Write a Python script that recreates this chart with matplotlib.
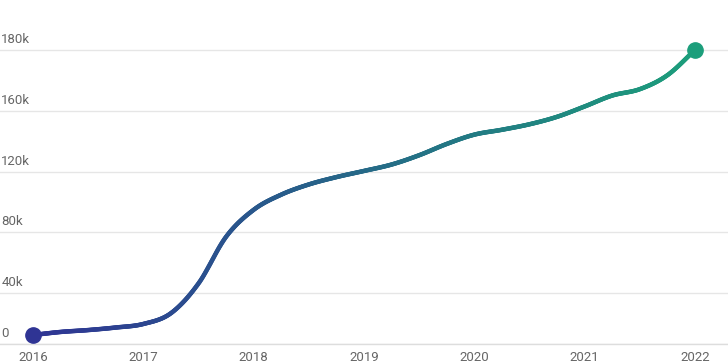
import numpy as np
import matplotlib
matplotlib.use("Agg")
import matplotlib.pyplot as plt
from matplotlib.collections import LineCollection
from matplotlib.colors import to_rgb

plt.rcParams['font.family'] = ['Roboto', 'DejaVu Sans']

# quarterly readings (thousands)
years = [2016 + q / 4 for q in range(25)]
values = [7.1, 9.5, 11.0, 13.0, 15.8, 24.3, 46.4, 76.7, 94.6, 104.7,
          111.5, 116.4, 120.5, 124.7, 130.8, 138.2, 144.3, 147.5, 151.1,
          156.0, 161.4, 165.0, 167.1, 171.7, 180.0]

tick_vals = [0, 40, 80, 120, 160, 180]
tick_labels = ["0", "40k", "80k", "120k", "160k", "180k"]
x_ticks = [2016, 2017, 2018, 2019, 2020, 2021, 2022]

c_start = "#2f3494"
c_end = "#1c9e7b"

# the axis in the original is spaced unevenly: piecewise mapping
scale_v = np.array([0, 40, 80, 120, 160, 180, 220], dtype=float)
scale_t = np.array([0, 50.7, 112.3, 172.3, 233.3, 294, 415.4])


def fwd(v):
    return np.interp(v, scale_v, scale_t)


def inv(t):
    return np.interp(t, scale_t, scale_v)


def smooth(x, y, n=30):
    # catmull-rom style cubic hermite
    x = np.asarray(x, float)
    y = np.asarray(y, float)
    h = np.diff(x)
    m = np.zeros(len(x))
    m[0] = (y[1] - y[0]) / h[0]
    m[-1] = (y[-1] - y[-2]) / h[-1]
    m[1:-1] = (y[2:] - y[:-2]) / (x[2:] - x[:-2])
    xs, ys = [], []
    for i in range(len(x) - 1):
        s = np.linspace(0, 1, n, endpoint=(i == len(x) - 2))
        h00 = 2 * s**3 - 3 * s**2 + 1
        h10 = s**3 - 2 * s**2 + s
        h01 = -2 * s**3 + 3 * s**2
        h11 = s**3 - s**2
        xs.append(x[i] + s * h[i])
        ys.append(h00 * y[i] + h10 * h[i] * m[i] + h01 * y[i + 1] + h11 * h[i] * m[i + 1])
    return np.concatenate(xs), np.concatenate(ys)


fig = plt.figure(figsize=(7.28, 3.64), dpi=100)
ax = fig.add_axes([0, 20 / 364, 1, 324 / 364])
ax.set_yscale("function", functions=(fwd, inv))

xs, ts = smooth(years, fwd(values))
ys = inv(ts)

c0 = np.array(to_rgb(c_start))
c1 = np.array(to_rgb(c_end))
frac = (xs[:-1] - xs[0]) / (xs[-1] - xs[0])
cols = c0 + (c1 - c0) * frac[:, None]
pts = np.column_stack([xs, ys]).reshape(-1, 1, 2)
segs = np.concatenate([pts[:-1], pts[1:]], axis=1)
lc = LineCollection(segs, colors=cols, linewidths=3.2, capstyle="round", zorder=3)
ax.add_collection(lc)

ax.plot(years[0], values[0], "o", ms=11, color=c_start, zorder=4)
ax.plot(years[-1], values[-1], "o", ms=11, color=c_end, zorder=4)

ax.set_xlim(2016 - 33 / 110.33, 2022 + 33 / 110.33)
ax.set_ylim(0, inv(324))

ax.set_yticks(tick_vals)
ax.set_yticklabels([])
ax.tick_params(axis="y", length=0)
ax.grid(axis="y", color="#e6e6e6", linewidth=1)
ax.set_axisbelow(True)

for v, lab in zip(tick_vals, tick_labels):
    ax.annotate(lab, xy=(0, v), xycoords=("axes fraction", "data"),
                xytext=(1, 3), textcoords="offset points",
                ha="left", va="bottom", fontsize=9.5, color="#666666")

ax.set_xticks(x_ticks)
ax.set_xticklabels([str(x) for x in x_ticks])
ax.tick_params(axis="x", length=0, pad=5, labelsize=9.5, labelcolor="#666666")

for s in ["top", "left", "right"]:
    ax.spines[s].set_visible(False)
ax.spines["bottom"].set_color("#dddddd")
ax.spines["bottom"].set_linewidth(1)

fig.savefig("out.png", dpi=100)
